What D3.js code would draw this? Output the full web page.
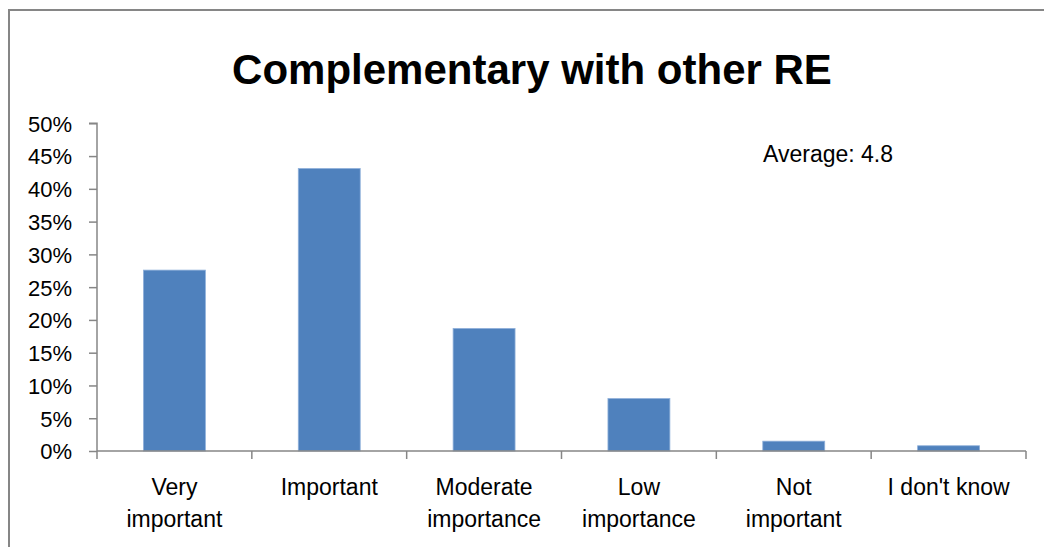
<!DOCTYPE html>
<html>
<head>
<meta charset="utf-8">
<script src="https://cdn.jsdelivr.net/npm/d3@7"></script>
<style>
html,body{margin:0;padding:0;background:#fff;}
svg{display:block;}
</style>
</head>
<body>
<script>
const categories = [["Very","important"],["Important"],["Moderate","importance"],["Low","importance"],["Not","important"],["I don't know"]];
const values = [0.276, 0.431, 0.187, 0.080, 0.015, 0.008];
const yTicks = [0,0.05,0.10,0.15,0.20,0.25,0.30,0.35,0.40,0.45,0.50];
const titleText = "Complementary with other RE";
const noteText = "Average: 4.8";

const W = 1044, H = 547;
const svg = d3.select("body").append("svg").attr("width", W).attr("height", H);
const font = "'Liberation Sans', Arial, sans-serif";

svg.append("rect").attr("x",9).attr("y",10).attr("width",W+20).attr("height",H+20)
  .attr("fill","#fff").attr("stroke","#868686").attr("stroke-width",2);

const m = {left:97, right:1026, top:123.3, bottom:451};
const x = d3.scaleBand().domain(d3.range(categories.length)).range([m.left, m.right]).padding(0);
const y = d3.scaleLinear().domain([0,0.5]).range([m.bottom, m.top]);

svg.append("text").attr("x",532).attr("y",84).attr("text-anchor","middle")
  .attr("font-family",font).attr("font-weight","bold").attr("font-size",42).attr("fill","#000")
  .text(titleText);

// bars
const bw = x.bandwidth()*0.4;
svg.selectAll("rect.bar").data(values).join("rect").attr("class","bar")
  .attr("x",(d,i)=>x(i)+x.bandwidth()/2-bw/2)
  .attr("width",bw)
  .attr("y",d=>y(d))
  .attr("height",d=>y(0)-y(d))
  .attr("fill","#4F81BD")
  .attr("stroke","#8FB0DA").attr("stroke-width",0.8);

// y axis
const yAxis = d3.axisLeft(y).tickValues(yTicks).tickSize(8).tickPadding(17)
  .tickFormat(d=>Math.round(d*100)+"%");
const gy = svg.append("g").attr("transform",`translate(${m.left},0)`).call(yAxis);
gy.select(".domain").attr("stroke","#868686").attr("stroke-width",1.5).attr("d",`M-8,${y(0.5)}H0V${y(0)}`);
gy.selectAll(".tick line").attr("stroke","#868686").attr("stroke-width",1.5);
gy.selectAll(".tick text").attr("font-family",font).attr("font-size",22).attr("fill","#000").attr("dy","0.36em");

// x axis
const gx = svg.append("g").attr("transform",`translate(0,${m.bottom})`);
gx.append("line").attr("x1",m.left).attr("x2",m.right).attr("y1",0).attr("y2",0)
  .attr("stroke","#868686").attr("stroke-width",1.5);
const bounds = d3.range(categories.length+1).map(i=> i<categories.length ? x(i) : m.right);
gx.selectAll("line.tk").data(bounds).join("line").attr("class","tk")
  .attr("x1",d=>d).attr("x2",d=>d).attr("y1",0).attr("y2",8)
  .attr("stroke","#868686").attr("stroke-width",1.5);
const lbl = gx.selectAll("text.cat").data(categories).join("text").attr("class","cat")
  .attr("font-family",font).attr("font-size",23).attr("fill","#000").attr("text-anchor","middle");
lbl.each(function(d,i){
  const t = d3.select(this);
  d.forEach((line,j)=>{
    t.append("tspan").attr("x",x(i)+x.bandwidth()/2).attr("y",44+j*32).text(line);
  });
});

svg.append("text").attr("x",763).attr("y",162).attr("font-family",font).attr("font-size",23)
  .attr("fill","#000").text(noteText);
</script>
</body>
</html>
